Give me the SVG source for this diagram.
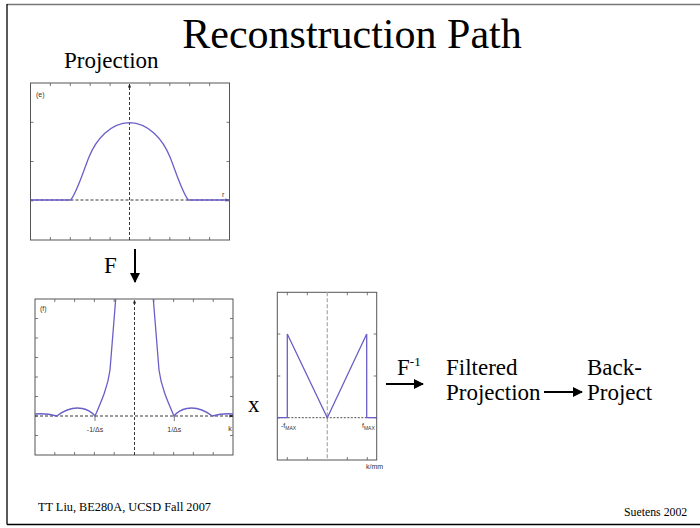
<svg xmlns="http://www.w3.org/2000/svg" width="700" height="528" viewBox="0 0 700 528">
<style>
.t{font-family:"Liberation Serif","Times New Roman",serif;fill:#000}
.s{font-family:"Liberation Sans",Arial,sans-serif;fill:#333;font-size:7px}
.box{fill:#fff;stroke:#555;stroke-width:1}
.tk{stroke:#555;stroke-width:0.8}
.ax{stroke:#222;stroke-width:0.9;stroke-dasharray:3 2;fill:none}
.gx{stroke:#aaa;stroke-width:1.2;stroke-dasharray:4 2;fill:none}
.cv{stroke:#6a5fc8;stroke-width:1.3;fill:none}
.ar{stroke:#000;stroke-width:2;fill:none}
</style>
<defs>
<marker id="ah" viewBox="0 0 10 10" refX="9" refY="5" markerWidth="5" markerHeight="5" orient="auto" markerUnits="strokeWidth">
<path d="M0,0 L10,5 L0,10 z" fill="#000"/>
</marker>
<marker id="sa" viewBox="0 0 10 10" refX="9" refY="5" markerWidth="4" markerHeight="4" orient="auto" markerUnits="userSpaceOnUse">
<path d="M0,1 L10,5 L0,9 z" fill="#222"/>
</marker>
</defs>
<rect width="700" height="528" fill="#fff"/>
<g id="frame">
<line x1="7" y1="4.5" x2="700" y2="4.5" stroke="#777" stroke-width="1.5"/>
<line x1="7" y1="4" x2="7" y2="524.5" stroke="#000" stroke-width="1.3"/>
<line x1="7" y1="524.5" x2="700" y2="524.5" stroke="#000" stroke-width="1.3"/>
</g>
<g id="title"><text class="t" x="352" y="48" font-size="42" text-anchor="middle">Reconstruction Path</text></g>
<g id="projection-label"><text class="t" x="64" y="68" font-size="23">Projection</text></g>

<g id="plot-projection">
<rect class="box" x="30.5" y="83" width="199" height="157"/>
<path class="tk" d="M50.4,83v3M70.3,83v3M90.2,83v3M110.1,83v3M149.9,83v3M169.8,83v3M189.7,83v3M209.6,83v3M50.4,240v-3M70.3,240v-3M90.2,240v-3M110.1,240v-3M149.9,240v-3M169.8,240v-3M189.7,240v-3M209.6,240v-3M30.5,122.3h3M30.5,161.5h3M30.5,200.8h3M229.5,122.3h-3M229.5,161.5h-3M229.5,200.8h-3"/>
<line class="ax" x1="30.5" y1="200" x2="229" y2="200" marker-end="url(#sa)"/>
<line class="ax" x1="129.5" y1="240" x2="129.5" y2="84" marker-end="url(#sa)"/>
<path class="cv" d="M30.5,200 L70.7,200 C77,192 83,172 89,157 C96,140 110,123 129.5,122.7 C149,123 163,140 170,157 C176,172 182,192 188.3,200 L229.5,200"/>
<text class="s" x="36" y="97">(e)</text>
<text class="s" x="222" y="197">r</text>
</g>

<g id="plot-fourier">
<rect class="box" x="35" y="299" width="198" height="156"/>
<path class="tk" d="M54.8,299v3M74.6,299v3M94.4,299v3M114.2,299v3M153.8,299v3M173.6,299v3M193.4,299v3M213.2,299v3M54.8,455v-3M74.6,455v-3M94.4,455v-3M114.2,455v-3M153.8,455v-3M173.6,455v-3M193.4,455v-3M213.2,455v-3M35,318.5h3M35,338h3M35,357.5h3M35,377h3M35,396.5h3M35,416h3M35,435.5h3M233,318.5h-3M233,338h-3M233,357.5h-3M233,377h-3M233,396.5h-3M233,416h-3M233,435.5h-3M95,416v5M174.3,416v5"/>
<line class="ax" x1="35" y1="416" x2="233" y2="416" marker-end="url(#sa)"/>
<line class="ax" x1="134.5" y1="455" x2="134.5" y2="300" marker-end="url(#sa)"/>
<path class="cv" d="M35,414 Q46,413 56.7,416 Q70,406 82.3,408.5 Q90,410 95,416 C102,400 108,386 110,370 C112,345 114,320 115.7,299"/>
<path class="cv" d="M233,414 Q223,413 212.3,416 Q199,406 186.7,408.5 Q179,410 174,416 C167,400 161,386 159,370 C157,345 155,320 153.3,299"/>
<text class="s" x="40" y="311">(f)</text>
<text class="s" x="95" y="432" text-anchor="middle">-1/Δs</text>
<text class="s" x="174.3" y="432" text-anchor="middle">1/Δs</text>
<text class="s" x="230" y="431" text-anchor="middle">k</text>
</g>

<g id="plot-filter">
<rect class="box" x="277.3" y="292.3" width="99.4" height="167.7"/>
<path class="tk" d="M287.3,292.3v3M307.3,292.3v3M347.3,292.3v3M367.3,292.3v3M287.3,460v-3M307.3,460v-3M347.3,460v-3M367.3,460v-3M277.3,334h3M277.3,376h3M277.3,417.7h3M376.7,334h-3M376.7,376h-3M376.7,417.7h-3"/>
<line class="gx" x1="327.3" y1="292.3" x2="327.3" y2="460"/>
<line x1="277.3" y1="417.7" x2="376.7" y2="417.7" stroke="#222" stroke-width="0.8" stroke-dasharray="2 1.5"/>
<path class="cv" d="M277.3,417.7 L287.3,417.7 L287.3,334 L327.3,417.7 L366.7,334 L366.7,417.7 L376.7,417.7"/>
<text class="s" x="281" y="428">-f<tspan font-size="5" dy="1.5">MAX</tspan></text>
<text class="s" x="362" y="428">f<tspan font-size="5" dy="1.5">MAX</tspan></text>
<text class="s" x="366" y="469">k/mm</text>
</g>

<g id="labels">
<text class="t" x="104" y="273" font-size="23">F</text>
<text class="t" x="248" y="412" font-size="23">x</text>
<text class="t" x="397" y="375" font-size="23">F<tspan font-size="13" dy="-9">-1</tspan></text>
<text class="t" x="446" y="375" font-size="23">Filtered</text>
<text class="t" x="446" y="400" font-size="23">Projection</text>
<text class="t" x="587" y="375" font-size="23">Back-</text>
<text class="t" x="587" y="400" font-size="23">Project</text>
<text class="t" x="38" y="511" font-size="12.3">TT Liu, BE280A, UCSD Fall 2007</text>
<text class="t" x="624" y="516" font-size="11.8">Suetens 2002</text>
</g>

<g id="connectors">
<line class="ar" x1="135" y1="249" x2="135" y2="282" marker-end="url(#ah)"/>
<line class="ar" x1="386" y1="384" x2="423" y2="384" marker-end="url(#ah)"/>
<line class="ar" x1="544" y1="392" x2="582" y2="392" marker-end="url(#ah)"/>
</g>
</svg>
